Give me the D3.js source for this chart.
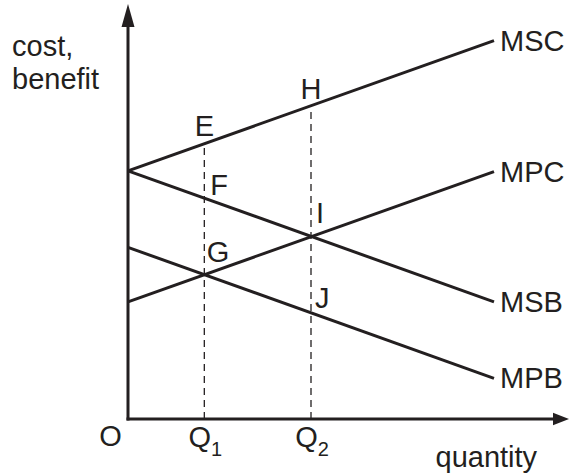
<!DOCTYPE html>
<html>
<head>
<meta charset="utf-8">
<script src="https://cdn.jsdelivr.net/npm/d3@7"></script>
<style>
  html, body { margin: 0; padding: 0; background: #fff; }
  svg text { font-family: "Liberation Sans", Arial, Helvetica, sans-serif; fill: #231f20; }
</style>
</head>
<body>
<div id="chart"></div>
<script>
// curves: value at quantity 0 and at quantity 10
const curveNames = ["MSC", "MPC", "MSB", "MPB"];
const startValues = [6.78, 3.2, 6.78, 4.69];
const endValues = [10.34, 6.76, 3.2, 1.11];
const qMax = 10;

// quantity markers
const qNames = ["Q", "Q"];
const qSubs = ["1", "2"];
const qValues = [2.085, 5.0];

// labelled points: name, curve it sits on, which quantity marker
const pointNames = ["E", "F", "G", "H", "I", "J"];
const pointCurves = ["MSC", "MSB", "MPC", "MSC", "MSB", "MPB"];
const pointQ = [0, 0, 0, 1, 1, 1];

const W = 569, H = 475;
const INK = "#231f20";
const FONT = 29;

const svg = d3.select("#chart").append("svg")
  .attr("width", W)
  .attr("height", H);

const x = d3.scaleLinear().domain([0, 10]).range([128, 494]);
const y = d3.scaleLinear().domain([0, 10]).range([419, 53]);

function valueAt(name, q) {
  const i = curveNames.indexOf(name);
  return startValues[i] + (endValues[i] - startValues[i]) * q / qMax;
}

// dashed drop lines from the x axis to the top curve
const topCurve = ["MSC", "MSC"];
svg.selectAll(".drop")
  .data(qValues)
  .join("line")
    .attr("class", "drop")
    .attr("x1", d => x(d))
    .attr("x2", d => x(d))
    .attr("y1", y(0))
    .attr("y2", (d, i) => y(valueAt(topCurve[i], d)))
    .attr("stroke", INK)
    .attr("stroke-width", 1.3)
    .attr("stroke-dasharray", "7,5");

// curves
const line = d3.line().x(d => x(d[0])).y(d => y(d[1]));
svg.selectAll(".curve")
  .data(curveNames)
  .join("path")
    .attr("class", "curve")
    .attr("d", (d, i) => line([[0, startValues[i]], [qMax, endValues[i]]]))
    .attr("fill", "none")
    .attr("stroke", INK)
    .attr("stroke-width", 3);

svg.selectAll(".curve-label")
  .data(curveNames)
  .join("text")
    .attr("class", "curve-label")
    .attr("x", x(qMax) + 6)
    .attr("y", (d, i) => y(endValues[i]) + 10)
    .attr("font-size", FONT)
    .text(d => d);

// axes with arrow heads
const x0 = x(0), y0 = y(0);
svg.append("path")
  .attr("d", `M${x0},${y0 + 1.5} V27`)
  .attr("stroke", INK).attr("stroke-width", 3).attr("fill", "none");
svg.append("path")
  .attr("d", `M${x0 - 6.5},27 L${x0},4 L${x0 + 6.5},27 Z`)
  .attr("fill", INK);
svg.append("path")
  .attr("d", `M${x0 - 1.5},${y0} H553`)
  .attr("stroke", INK).attr("stroke-width", 3).attr("fill", "none");
svg.append("path")
  .attr("d", `M553,${y0 - 6.3} L569,${y0} L553,${y0 + 6.3} Z`)
  .attr("fill", INK);

// axis titles
const yTitle = svg.append("text").attr("font-size", FONT);
yTitle.append("tspan").attr("x", 12).attr("y", 56).text("cost,");
yTitle.append("tspan").attr("x", 12).attr("y", 88.5).text("benefit");

svg.append("text")
  .attr("x", 435.5).attr("y", 466.5)
  .attr("font-size", FONT)
  .text("quantity");

svg.append("text")
  .attr("x", 110.5).attr("y", 446)
  .attr("text-anchor", "middle")
  .attr("font-size", FONT)
  .text("O");

// quantity labels with subscripts
const qLab = svg.selectAll(".q-label")
  .data(qValues)
  .join("text")
    .attr("class", "q-label")
    .attr("x", d => x(d) + 1)
    .attr("y", 447)
    .attr("text-anchor", "middle")
    .attr("font-size", FONT);
qLab.append("tspan").text((d, i) => qNames[i]);
qLab.append("tspan").attr("font-size", 20).attr("dy", 8.5).text((d, i) => qSubs[i]);

// point labels
const labelAnchor = { E: "middle", H: "middle", F: "start", G: "start", I: "start", J: "start" };
const labelDx = { E: 0, H: 0, F: 6, G: 2.5, I: 5, J: 4 };
const labelDy = { E: -8, H: -7, F: -3.5, G: -13, I: -13, J: -5 };

svg.selectAll(".pt-label")
  .data(pointNames)
  .join("text")
    .attr("class", "pt-label")
    .attr("x", (d, i) => x(qValues[pointQ[i]]) + labelDx[d])
    .attr("y", (d, i) => y(valueAt(pointCurves[i], qValues[pointQ[i]])) + labelDy[d])
    .attr("text-anchor", d => labelAnchor[d])
    .attr("font-size", FONT)
    .text(d => d);
</script>
</body>
</html>
